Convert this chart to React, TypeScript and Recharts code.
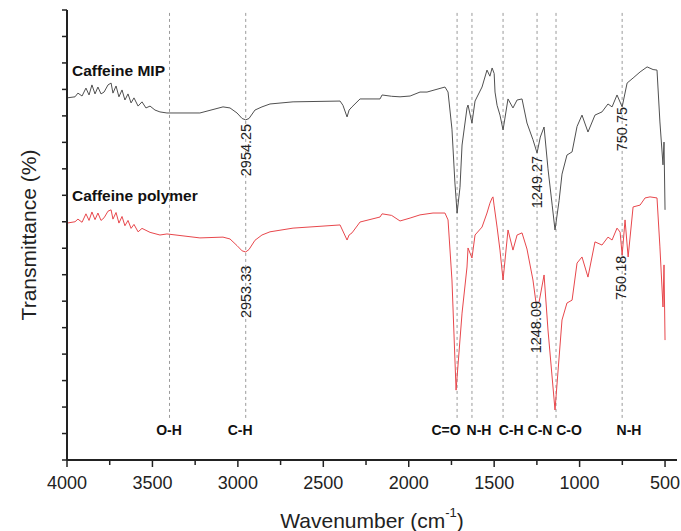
import React from 'react';
import { LineChart, Line, XAxis, YAxis, ReferenceLine, ReferenceDot, Label } from 'recharts';

// [wavenumber (cm-1), transmittance (offset units)]
const mipSpectrum: [number, number][] = [
  [4000, 13.68], [3953, 13.72], [3936, 13.86], [3912, 13.75], [3889, 14.05], [3871, 13.79],
  [3854, 14.17], [3836, 13.83], [3819, 14.09], [3801, 13.83], [3783, 13.9], [3760, 14.17],
  [3742, 14.24], [3731, 13.86], [3713, 14.13], [3696, 13.72], [3678, 13.98], [3661, 13.6],
  [3643, 13.83], [3625, 13.49], [3608, 13.68], [3584, 13.37], [3561, 13.53], [3538, 13.3],
  [3514, 13.37], [3485, 13.22], [3456, 13.15], [3415, 13.11], [3222, 13.11], [3087, 13.34],
  [3046, 13.3], [3005, 13.11], [2975, 12.9], [2954, 12.85], [2935, 12.9], [2900, 13.22],
  [2859, 13.34], [2812, 13.45], [2677, 13.53], [2402, 13.56],
  [2385, 13.4], [2361, 12.96], [2349, 13.22], [2332, 13.34], [2285, 13.64], [2168, 13.64],
  [2156, 13.79], [2100, 13.74], [2051, 13.72], [1992, 13.75], [1934, 13.9], [1893, 13.9], [1788, 14.09],
  [1770, 13.9], [1747, 12.5], [1730, 10.5], [1717, 9.33], [1700, 10.3], [1688, 11.9],
  [1659, 13.3], [1653, 13.41], [1630, 12.73], [1612, 13.56], [1571, 14.09], [1542, 14.73],
  [1525, 14.5], [1512, 14.81], [1500, 14.6], [1495, 13.9], [1483, 13.4], [1466, 13.03],
  [1448, 12.47], [1419, 13.64], [1390, 13.3], [1366, 13.6], [1337, 13.64], [1308, 12.73],
  [1273, 12.1], [1249, 11.6], [1230, 12.2], [1208, 12.58], [1185, 11.0], [1160, 9.6],
  [1144, 8.69], [1120, 9.8], [1103, 10.8], [1074, 11.52], [1044, 11.64], [1015, 12.6],
  [986, 13.03], [951, 12.39], [910, 13.03], [869, 13.15], [834, 13.45], [810, 13.34],
  [781, 13.79], [751, 13.34], [722, 14.24], [687, 14.43], [646, 14.66], [605, 14.85],
  [570, 14.75], [547, 14.73], [530, 12.77], [512, 11.15], [506, 12.01], [500, 9.45],
];

const polymerSpectrum: [number, number][] = [
  [4000, 8.95], [3953, 9.0], [3936, 9.1], [3912, 8.98], [3889, 9.3], [3871, 9.05],
  [3854, 9.37], [3836, 9.08], [3819, 9.33], [3801, 9.05], [3783, 9.15], [3760, 9.4],
  [3742, 9.45], [3731, 9.1], [3713, 9.35], [3696, 8.95], [3678, 9.2], [3661, 8.85],
  [3643, 9.05], [3625, 8.75], [3608, 8.9], [3584, 8.62], [3561, 8.75], [3514, 8.6],
  [3456, 8.5], [3415, 8.54], [3222, 8.39], [3087, 8.42], [3046, 8.35], [3005, 8.1],
  [2975, 7.9], [2954, 7.86], [2935, 7.95], [2900, 8.3], [2859, 8.5], [2812, 8.62],
  [2677, 8.76], [2402, 8.88], [2361, 8.31], [2349, 8.5], [2332, 8.58],
  [2285, 8.99], [2168, 9.18], [2156, 9.3], [2100, 9.24], [2051, 9.03], [1992, 9.14], [1934, 9.26],
  [1858, 9.33], [1788, 9.33], [1770, 9.07], [1747, 6.8], [1723, 2.64], [1688, 5.55],
  [1659, 7.29], [1653, 8.01], [1630, 7.63], [1612, 8.5], [1571, 8.8], [1542, 9.33],
  [1525, 9.7], [1512, 9.9], [1507, 9.94], [1500, 9.6], [1483, 8.8], [1466, 7.93],
  [1448, 6.8], [1419, 8.69], [1390, 7.93], [1366, 8.5], [1337, 8.58], [1308, 7.97],
  [1273, 6.8], [1255, 5.93], [1237, 5.97], [1208, 6.99], [1185, 4.91], [1144, 1.89],
  [1103, 5.29], [1074, 5.93], [1044, 6.04], [1015, 7.44], [986, 7.67], [951, 6.91],
  [910, 8.24], [869, 8.12], [834, 8.42], [810, 8.31], [781, 8.76], [763, 8.61],
  [751, 7.74], [734, 9.07], [716, 7.67], [687, 9.56], [646, 9.63], [617, 9.9],
  [588, 9.94], [547, 9.9], [530, 8.05], [512, 5.78], [506, 7.37], [500, 4.53],
];

const xTicks = [4000, 3750, 3500, 3250, 3000, 2750, 2500, 2250, 2000, 1750, 1500, 1250, 1000, 750, 500];
const yTicks = [0, 1, 2, 3, 4, 5, 6, 7, 8, 9, 10, 11, 12, 13, 14, 15, 16, 17];

const bandLines = [3400, 2954, 1717, 1630, 1448, 1249, 1138, 751];
const bandLabels = ['O-H', 'C-H', 'C=O', 'N-H', 'C-H', 'C-N', 'C-O', 'N-H'];
const bandLabelX = [3403, 2987, 1782, 1589, 1401, 1232, 1062, 711];

const peakTexts = ['2954.25', '1249.27', '750.75', '2953.33', '1248.09', '750.18'];
const peakX = [2954, 1249, 751, 2954, 1254, 756];
const peakY = [11.71, 10.5, 12.5, 6.35, 5.02, 6.88];

const seriesNames = ['Caffeine MIP', 'Caffeine polymer'];
const seriesNameY = [14.73, 10.01];

const FONT = '"Liberation Sans", Arial, sans-serif';

const mipData = mipSpectrum.map(([w, t]) => ({ w, t }));
const polymerData = polymerSpectrum.map(([w, t]) => ({ w, t }));

const XTick = (props: any) => {
  const { x, y, payload } = props;
  const major = payload.value % 500 === 0;
  return (
    <g>
      <line x1={x} x2={x} y1={y} y2={y + (major ? 7 : 5)} stroke="#222" strokeWidth={1.5} />
      {major && (
        <text x={x} y={y + 23} textAnchor="middle" dominantBaseline="central" fontSize={18} fill="#222" fontFamily={FONT}>
          {payload.value}
        </text>
      )}
    </g>
  );
};

export default function App() {
  return (
    <div style={{ position: 'absolute', left: 0, top: 0, background: '#fff' }}>
      <LineChart width={681} height={531} margin={{ top: 10, right: 4, bottom: 0, left: 27 }}>
        <XAxis
          dataKey="w"
          type="number"
          domain={[430, 4000]}
          reversed
          ticks={xTicks}
          interval={0}
          allowDataOverflow
          height={71}
          tickSize={0}
          tickMargin={0}
          tickLine={false}
          tick={<XTick />}
          axisLine={{ stroke: '#222', strokeWidth: 2 }}
        >
          <Label
            content={(p: any) => {
              const vb = p.viewBox;
              return (
                <text x={vb.x + vb.width / 2} y={vb.y + 60} textAnchor="middle" dominantBaseline="central" fontSize={21} fill="#222" fontFamily={FONT}>
                  Wavenumber (cm
                  <tspan dy={-8} fontSize={13}>-1</tspan>
                  <tspan dy={8}>)</tspan>
                </text>
              );
            }}
          />
        </XAxis>
        <XAxis xAxisId="top" orientation="top" type="number" domain={[430, 4000]} reversed height={0} tick={false} tickLine={false} axisLine={{ stroke: '#222', strokeWidth: 2 }} />
        <YAxis
          type="number"
          domain={[0, 17]}
          ticks={yTicks}
          interval={0}
          width={40}
          tickSize={5}
          tickFormatter={() => ''}
          tickLine={{ stroke: '#222', strokeWidth: 1.5 }}
          axisLine={{ stroke: '#222', strokeWidth: 2 }}
        >
          <Label
            content={(p: any) => {
              const vb = p.viewBox;
              const cx = vb.x + 1;
              const cy = vb.y + vb.height / 2;
              return (
                <text x={cx} y={cy} transform={`rotate(-90, ${cx}, ${cy})`} textAnchor="middle" dominantBaseline="central" fontSize={21} fill="#222" fontFamily={FONT}>
                  Transmittance (%)
                </text>
              );
            }}
          />
        </YAxis>
        <YAxis yAxisId="right" orientation="right" type="number" domain={[0, 17]} width={0} tick={false} tickLine={false} axisLine={{ stroke: '#222', strokeWidth: 2 }} />

        {bandLines.map((b, i) => (
          <ReferenceLine
            key={'bl' + i}
            segment={[{ x: b, y: 1.59 }, { x: b, y: 17 }]}
            stroke="#9a9a9a"
            strokeWidth={1}
            strokeDasharray="3 3"
          />
        ))}

        <Line data={mipData} dataKey="t" type="linear" stroke="#505050" strokeWidth={1} dot={false} isAnimationActive={false} />
        <Line data={polymerData} dataKey="t" type="linear" stroke="#e8474c" strokeWidth={1} dot={false} isAnimationActive={false} />

        {bandLabels.map((t, i) => (
          <ReferenceDot
            key={'lab' + i}
            x={bandLabelX[i]}
            y={1.13}
            r={0}
            shape={(p: any) => (
              <text x={p.cx} y={p.cy} textAnchor="middle" dominantBaseline="central" fontSize={14} fontWeight="bold" fill="#111" fontFamily={FONT}>
                {t}
              </text>
            )}
          />
        ))}

        {peakTexts.map((t, i) => (
          <ReferenceDot
            key={'pk' + i}
            x={peakX[i]}
            y={peakY[i]}
            r={0}
            shape={(p: any) => (
              <text x={p.cx} y={p.cy} transform={`rotate(-90, ${p.cx}, ${p.cy})`} textAnchor="middle" dominantBaseline="central" fontSize={14.5} fill="#222" fontFamily={FONT}>
                {t}
              </text>
            )}
          />
        ))}

        {seriesNames.map((t, i) => (
          <ReferenceDot
            key={'sn' + i}
            x={3971}
            y={seriesNameY[i]}
            r={0}
            shape={(p: any) => (
              <text x={p.cx} y={p.cy} textAnchor="start" dominantBaseline="central" fontSize={15.5} fontWeight="bold" fill="#111" fontFamily={FONT}>
                {t}
              </text>
            )}
          />
        ))}
      </LineChart>
    </div>
  );
}
